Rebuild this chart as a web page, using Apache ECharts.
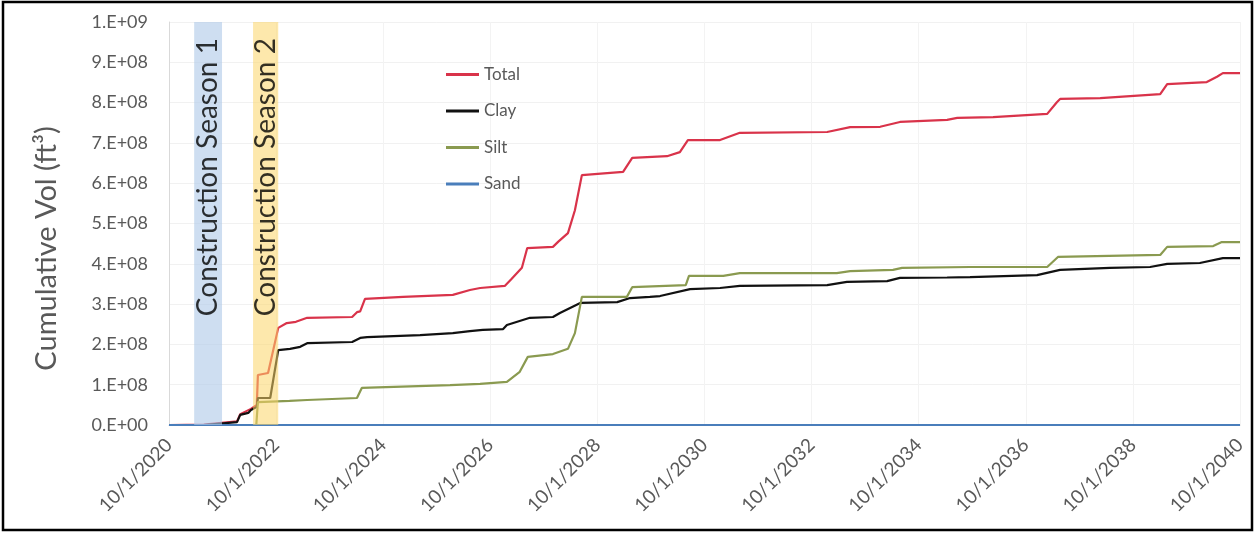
<!DOCTYPE html>
<html><head><meta charset="utf-8">
<script src="https://cdn.jsdelivr.net/npm/echarts@6/dist/echarts.min.js"></script>
<style>html,body{margin:0;padding:0;background:#fff}#c{width:1255px;height:533px}</style>
</head><body><div id="c"></div>
<script>
// x values are decimal years; axis starts at 10/1/2020
const X_START_YEAR = 2020.75;
const xTickLabels = ['10/1/2020','10/1/2022','10/1/2024','10/1/2026','10/1/2028','10/1/2030','10/1/2032','10/1/2034','10/1/2036','10/1/2038','10/1/2040'];
const yTickLabels = ['0.E+00','1.E+08','2.E+08','3.E+08','4.E+08','5.E+08','6.E+08','7.E+08','8.E+08','9.E+08','1.E+09'];
const seriesNames = ['Total','Clay','Silt','Sand'];

const totalPts = [[2020.75,0],[2021.40,0.01e8],[2022.02,0.09e8],[2022.08,0.27e8],[2022.28,0.40e8],[2022.39,0.50e8],[2022.41,1.24e8],[2022.60,1.29e8],[2022.79,2.41e8],[2022.95,2.53e8],[2023.12,2.56e8],[2023.33,2.66e8],[2024.17,2.68e8],[2024.26,2.80e8],[2024.32,2.82e8],[2024.41,3.13e8],[2025.12,3.18e8],[2026.05,3.23e8],[2026.37,3.35e8],[2026.56,3.40e8],[2027.02,3.45e8],[2027.15,3.63e8],[2027.34,3.90e8],[2027.44,4.39e8],[2027.92,4.42e8],[2028.02,4.55e8],[2028.20,4.76e8],[2028.33,5.33e8],[2028.46,6.20e8],[2029.23,6.28e8],[2029.40,6.63e8],[2030.05,6.67e8],[2030.29,6.77e8],[2030.44,7.07e8],[2031.04,7.07e8],[2031.41,7.25e8],[2033.04,7.27e8],[2033.47,7.39e8],[2034.03,7.40e8],[2034.40,7.52e8],[2035.28,7.57e8],[2035.47,7.62e8],[2036.14,7.64e8],[2037.15,7.72e8],[2037.33,8.01e8],[2037.39,8.09e8],[2038.14,8.11e8],[2039.26,8.21e8],[2039.39,8.46e8],[2040.13,8.51e8],[2040.32,8.64e8],[2040.43,8.73e8],[2040.75,8.73e8]];

const clayPts = [[2020.75,0],[2021.40,0],[2022.02,0.07e8],[2022.08,0.25e8],[2022.23,0.30e8],[2022.28,0.37e8],[2022.39,0.45e8],[2022.41,0.67e8],[2022.64,0.67e8],[2022.79,1.86e8],[2023.01,1.89e8],[2023.20,1.94e8],[2023.33,2.03e8],[2024.17,2.06e8],[2024.32,2.16e8],[2024.45,2.18e8],[2025.44,2.23e8],[2026.05,2.28e8],[2026.37,2.33e8],[2026.61,2.36e8],[2026.99,2.38e8],[2027.06,2.48e8],[2027.49,2.66e8],[2027.92,2.68e8],[2028.05,2.78e8],[2028.43,3.03e8],[2029.12,3.05e8],[2029.36,3.15e8],[2029.73,3.18e8],[2029.92,3.20e8],[2030.48,3.37e8],[2031.04,3.40e8],[2031.41,3.45e8],[2033.04,3.47e8],[2033.41,3.55e8],[2034.16,3.57e8],[2034.40,3.65e8],[2035.28,3.66e8],[2035.71,3.67e8],[2036.96,3.72e8],[2037.39,3.85e8],[2038.32,3.90e8],[2039.07,3.92e8],[2039.39,4.00e8],[2040.00,4.02e8],[2040.43,4.14e8],[2040.75,4.14e8]];

const siltPts = [[2020.75,0],[2022.38,0],[2022.41,0.57e8],[2023.00,0.60e8],[2023.33,0.62e8],[2024.26,0.67e8],[2024.35,0.92e8],[2026.00,0.99e8],[2026.56,1.02e8],[2027.06,1.07e8],[2027.30,1.32e8],[2027.45,1.69e8],[2027.92,1.76e8],[2028.20,1.89e8],[2028.33,2.28e8],[2028.46,3.18e8],[2029.30,3.18e8],[2029.40,3.42e8],[2030.40,3.47e8],[2030.46,3.70e8],[2031.10,3.70e8],[2031.41,3.77e8],[2033.22,3.77e8],[2033.47,3.82e8],[2034.27,3.85e8],[2034.44,3.90e8],[2035.71,3.92e8],[2037.15,3.92e8],[2037.35,4.17e8],[2039.26,4.22e8],[2039.39,4.42e8],[2040.25,4.44e8],[2040.41,4.54e8],[2040.75,4.54e8]];

const sandPts = [[2020.75,0],[2022.41,0],[2030.75,0],[2040.75,0]];

const seasons = [
  {name:'Construction Season 1', from:2021.22, to:2021.74},
  {name:'Construction Season 2', from:2022.32, to:2022.79}
];

const toXY = pts => pts.map(([yr, v]) => [yr - X_START_YEAR, v]);
const FONT = 'Lato, "Open Sans", sans-serif';
const GREY = '#595959';
const colors = {Total:'#d9334a', Clay:'#111111', Silt:'#8a9a50', Sand:'#4a7ebb'};
const seriesData = {Total: totalPts, Clay: clayPts, Silt: siltPts, Sand: sandPts};
const seasonColors = ['rgba(176,202,232,0.62)', 'rgba(252,214,104,0.55)'];

const lineSeries = seriesNames.map(n => ({
  name: n, type: 'line', data: toXY(seriesData[n]), symbol: 'none', z: 2,
  lineStyle: {color: colors[n], width: 2.2}, itemStyle: {color: colors[n]}
}));

const bandSeries = {
  name: 'bands', type: 'scatter', z: 4, symbolSize: 0, silent: true,
  data: seasons.map(s => ({name: s.name, value: [(s.from + s.to) / 2 - X_START_YEAR, 9.6e8]})),
  label: {show: true, formatter: p => p.name, rotate: 90, position: 'inside', align: 'right', verticalAlign: 'middle',
    color: '#000', fontSize: 28, fontFamily: FONT},
  markArea: {silent: true, z: 3, data: seasons.map((s, i) => [
    {xAxis: s.from - X_START_YEAR, yAxis: 0, itemStyle: {color: seasonColors[i]}},
    {xAxis: s.to - X_START_YEAR, yAxis: 1e9}
  ])}
};

const chart = echarts.init(document.getElementById('c'), null, {renderer: 'canvas'});
chart.setOption({
  animation: false,
  backgroundColor: '#fff',
  grid: {left: 169, right: 15, top: 22, bottom: 108, containLabel: false},
  legend: {
    data: seriesNames.map(n => ({name: n, icon: 'rect', itemStyle: {color: colors[n]}})),
    orient: 'vertical', left: 441, top: 61, itemWidth: 33, itemHeight: 3, itemGap: 19.5,
    textStyle: {color: GREY, fontSize: 17, fontFamily: FONT}
  },
  xAxis: {
    type: 'value', min: 0, max: 20, interval: 2,
    axisLine: {show: true, lineStyle: {color: '#d9d9d9'}}, axisTick: {show: false},
    splitLine: {show: true, lineStyle: {color: '#f3f3f3'}},
    axisLabel: {rotate: 45, margin: 17, color: GREY, fontSize: 19, fontFamily: FONT,
      formatter: v => xTickLabels[Math.round(v / 2)]}
  },
  yAxis: {
    type: 'value', min: 0, max: 1e9, interval: 1e8,
    name: 'Cumulative Vol (ft\u00B3)', nameLocation: 'middle', nameGap: 108,
    nameTextStyle: {color: GREY, fontSize: 29, fontFamily: FONT, padding: [0, 50, 0, 0]},
    axisLine: {show: true, lineStyle: {color: '#d9d9d9'}}, axisTick: {show: false},
    splitLine: {show: true, lineStyle: {color: '#f1f1f1'}},
    axisLabel: {color: GREY, fontSize: 18, fontFamily: FONT, margin: 21,
      formatter: v => yTickLabels[Math.round(v / 1e8)]}
  },
  graphic: [{type: 'rect', shape: {x: 3, y: 2, width: 1249, height: 528},
    style: {fill: null, stroke: '#000', lineWidth: 2.5}, silent: true}],
  series: [...lineSeries, bandSeries]
});
</script></body></html>
